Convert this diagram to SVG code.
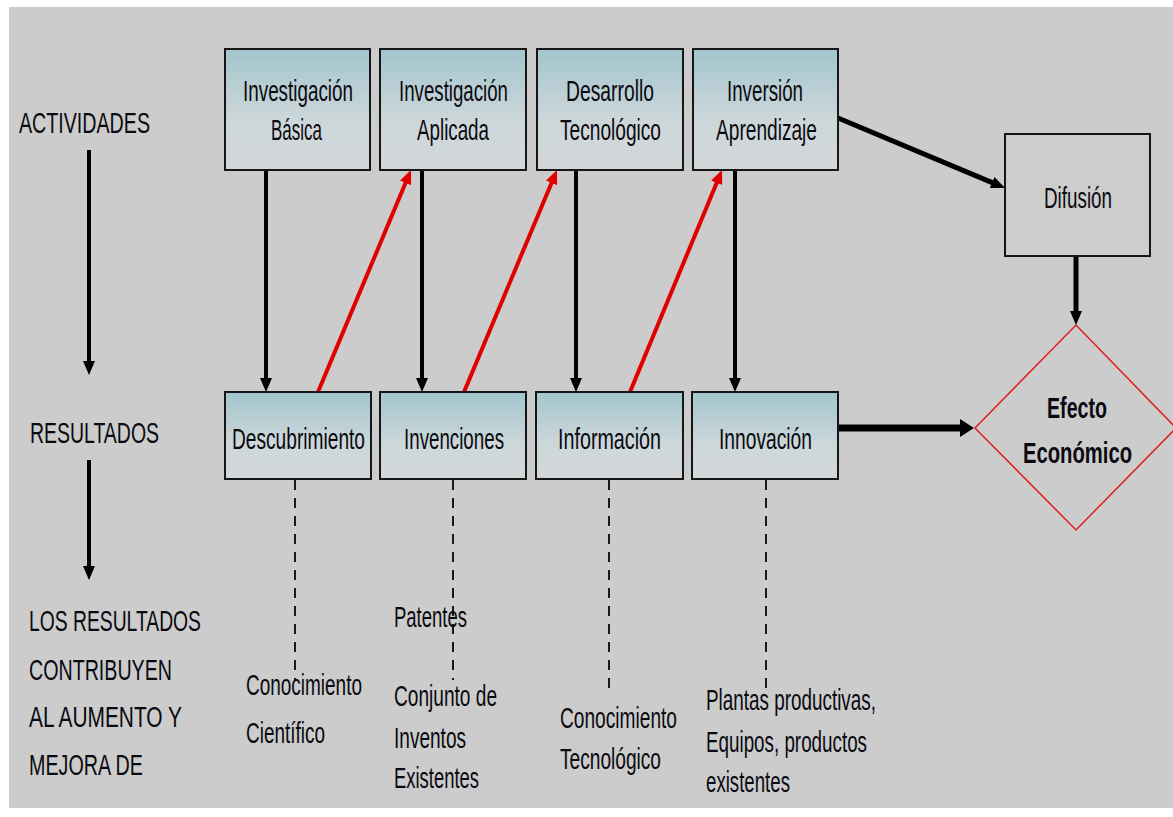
<svg xmlns="http://www.w3.org/2000/svg" width="1173" height="817" viewBox="0 0 1173 817">
  <style>
    text { font-family: "Liberation Sans Narrow", "Liberation Sans", Arial, sans-serif; font-size: 30px; fill: #0a0a10; }
    .b { font-weight: bold; }
    .box { fill: url(#boxfill); stroke: #161616; stroke-width: 2; }
    .plain { fill: #cdcdcd; stroke: #161616; stroke-width: 2; }
    .k { stroke: #000; stroke-width: 4; fill: none; marker-end: url(#blk); }
    .r { stroke: #e00000; stroke-width: 4; fill: none; marker-end: url(#red); }
    .d { stroke: #1a1a1a; stroke-width: 2; stroke-dasharray: 10 8; fill: none; }
  </style>
  <defs>
    <linearGradient id="boxfill" x1="0" y1="0" x2="0" y2="1">
      <stop offset="0" stop-color="#a2c5cd"/>
      <stop offset="0.6" stop-color="#cdd7da"/>
      <stop offset="1" stop-color="#d3d7d9"/>
    </linearGradient>
    <marker id="blk" markerUnits="userSpaceOnUse" markerWidth="14" markerHeight="12" viewBox="0 0 14 12" refX="4" refY="6" orient="auto">
      <path d="M0,0 L14,6 L0,12 z" fill="#000"/>
    </marker>
    <marker id="red" markerUnits="userSpaceOnUse" markerWidth="14" markerHeight="12" viewBox="0 0 14 12" refX="4" refY="6" orient="auto">
      <path d="M0,0 L14,6 L0,12 z" fill="#e00000"/>
    </marker>
    <marker id="big" markerUnits="userSpaceOnUse" markerWidth="14" markerHeight="18" viewBox="0 0 14 18" refX="4" refY="9" orient="auto">
      <path d="M0,0 L14,9 L0,18 z" fill="#000"/>
    </marker>
  </defs>

  <!-- page -->
  <rect x="0" y="0" width="1173" height="817" fill="#ffffff"/>
  <rect x="9" y="7" width="1164" height="801" fill="#cccccc"/>

  <!-- side labels -->
  <g id="labels">
    <text x="19" y="133" textLength="131" lengthAdjust="spacingAndGlyphs">ACTIVIDADES</text>
    <text x="30" y="443" textLength="129" lengthAdjust="spacingAndGlyphs">RESULTADOS</text>
    <text x="29" y="631" textLength="172" lengthAdjust="spacingAndGlyphs">LOS RESULTADOS</text>
    <text x="29" y="680" textLength="143" lengthAdjust="spacingAndGlyphs">CONTRIBUYEN</text>
    <text x="29" y="727" textLength="153" lengthAdjust="spacingAndGlyphs">AL AUMENTO Y</text>
    <text x="29" y="775" textLength="114" lengthAdjust="spacingAndGlyphs">MEJORA DE</text>
  </g>

  <!-- connectors -->
  <g id="connectors">
    <line class="k" x1="89" y1="150" x2="89" y2="365"/>
    <line class="k" x1="89" y1="460" x2="89" y2="570"/>

    <line class="k" x1="266" y1="171" x2="266" y2="382"/>
    <line class="k" x1="422" y1="171" x2="422" y2="382"/>
    <line class="k" x1="576" y1="171" x2="576" y2="382"/>
    <line class="k" x1="735" y1="171" x2="735" y2="382"/>

    <line class="r" x1="318" y1="392" x2="407.1" y2="179.2"/>
    <line class="r" x1="464" y1="392" x2="553.1" y2="179.2"/>
    <line class="r" x1="630" y1="392" x2="718.2" y2="179.2"/>

    <line class="k" style="stroke-width:5" x1="838" y1="118" x2="995.8" y2="184.1"/>
    <line class="k" style="stroke-width:5" x1="1076" y1="257" x2="1076" y2="315"/>
    <line style="stroke:#000;stroke-width:7;marker-end:url(#big)" x1="839" y1="428" x2="964" y2="428"/>

    <line class="d" x1="295" y1="480" x2="295" y2="680"/>
    <line class="d" x1="453" y1="480" x2="453" y2="680"/>
    <line class="d" x1="609" y1="480" x2="609" y2="690"/>
    <line class="d" x1="766" y1="480" x2="766" y2="690"/>
  </g>

  <!-- activity row -->
  <g id="inv-basica">
    <rect class="box" x="225" y="49" width="145" height="121"/>
    <text x="243" y="101" textLength="110" lengthAdjust="spacingAndGlyphs">Investigación</text>
    <text x="271" y="140" textLength="51" lengthAdjust="spacingAndGlyphs">Básica</text>
  </g>
  <g id="inv-aplicada">
    <rect class="box" x="380" y="49" width="146" height="121"/>
    <text x="399" y="101" textLength="109" lengthAdjust="spacingAndGlyphs">Investigación</text>
    <text x="417" y="140" textLength="72" lengthAdjust="spacingAndGlyphs">Aplicada</text>
  </g>
  <g id="desarrollo">
    <rect class="box" x="537" y="49" width="146" height="121"/>
    <text x="566" y="101" textLength="88" lengthAdjust="spacingAndGlyphs">Desarrollo</text>
    <text x="560" y="140" textLength="101" lengthAdjust="spacingAndGlyphs">Tecnológico</text>
  </g>
  <g id="inversion">
    <rect class="box" x="693" y="49" width="145" height="121"/>
    <text x="727" y="101" textLength="76" lengthAdjust="spacingAndGlyphs">Inversión</text>
    <text x="716" y="140" textLength="101" lengthAdjust="spacingAndGlyphs">Aprendizaje</text>
  </g>
  <g id="difusion">
    <rect class="plain" x="1005" y="134" width="145" height="122"/>
    <text x="1044" y="208" textLength="68" lengthAdjust="spacingAndGlyphs">Difusión</text>
  </g>

  <!-- result row -->
  <g id="descubrimiento">
    <rect class="box" x="225" y="392" width="146" height="87"/>
    <text x="232" y="449" textLength="133" lengthAdjust="spacingAndGlyphs">Descubrimiento</text>
  </g>
  <g id="invenciones">
    <rect class="box" x="380" y="392" width="146" height="87"/>
    <text x="404" y="449" textLength="100" lengthAdjust="spacingAndGlyphs">Invenciones</text>
  </g>
  <g id="informacion">
    <rect class="box" x="536" y="392" width="147" height="87"/>
    <text x="558" y="449" textLength="103" lengthAdjust="spacingAndGlyphs">Información</text>
  </g>
  <g id="innovacion">
    <rect class="box" x="692" y="392" width="146" height="87"/>
    <text x="719" y="449" textLength="93" lengthAdjust="spacingAndGlyphs">Innovación</text>
  </g>
  <g id="efecto">
    <polygon points="1076,325 1176,428 1076,530 975,428" fill="none" stroke="#e02020" stroke-width="1.5"/>
    <text class="b" x="1047" y="418" textLength="60" lengthAdjust="spacingAndGlyphs">Efecto</text>
    <text class="b" x="1023" y="463" textLength="109" lengthAdjust="spacingAndGlyphs">Económico</text>
  </g>

  <!-- contributions -->
  <g id="aportes">
    <text x="246" y="695" textLength="116" lengthAdjust="spacingAndGlyphs">Conocimiento</text>
    <text x="246" y="743" textLength="79" lengthAdjust="spacingAndGlyphs">Científico</text>

    <text x="394" y="627" textLength="73" lengthAdjust="spacingAndGlyphs">Patentes</text>
    <text x="394" y="706" textLength="103" lengthAdjust="spacingAndGlyphs">Conjunto de</text>
    <text x="394" y="748" textLength="72" lengthAdjust="spacingAndGlyphs">Inventos</text>
    <text x="394" y="788" textLength="85" lengthAdjust="spacingAndGlyphs">Existentes</text>

    <text x="560" y="728" textLength="117" lengthAdjust="spacingAndGlyphs">Conocimiento</text>
    <text x="560" y="769" textLength="101" lengthAdjust="spacingAndGlyphs">Tecnológico</text>

    <text x="706" y="710" textLength="170" lengthAdjust="spacingAndGlyphs">Plantas productivas,</text>
    <text x="706" y="752" textLength="161" lengthAdjust="spacingAndGlyphs">Equipos, productos</text>
    <text x="706" y="792" textLength="84" lengthAdjust="spacingAndGlyphs">existentes</text>
  </g>
</svg>
